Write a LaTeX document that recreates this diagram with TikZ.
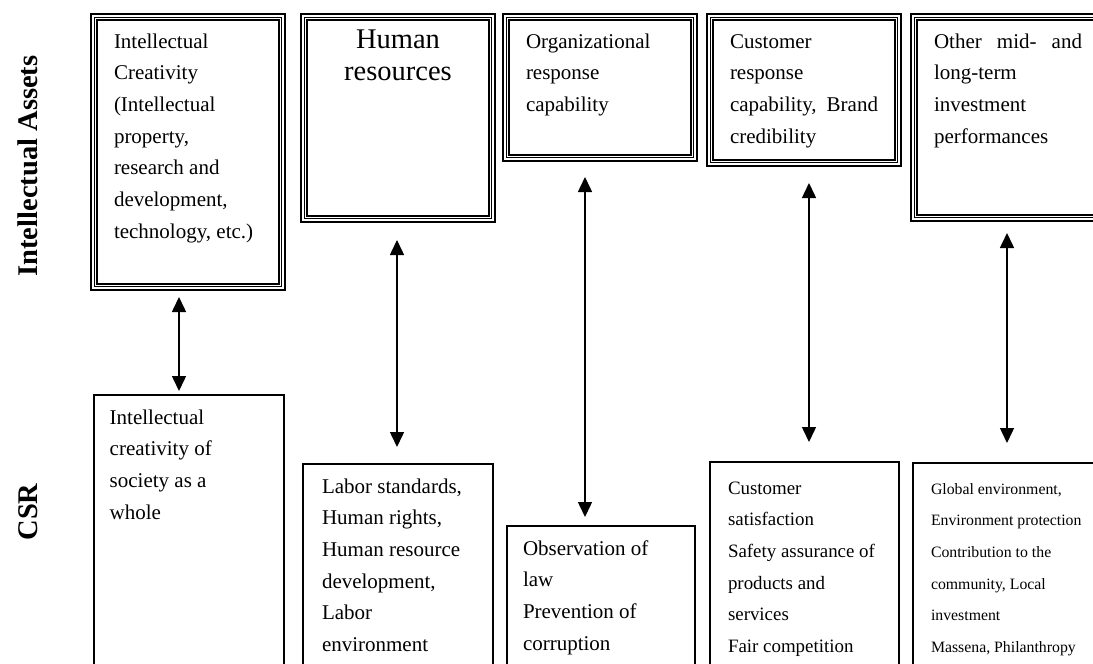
\documentclass[tikz,border=0pt]{standalone}
\usepackage{fontspec}
\setmainfont{Liberation Serif}
\usetikzlibrary{arrows.meta,calc}

% three nested rules round an asset box: thick, thin, thick
\newcommand\tripleframe[1]{%
  \draw[line width=2.3pt] ($(#1.north west)+(1.15,1.15)$) rectangle ($(#1.south east)+(-1.15,-1.15)$);
  \draw[line width=0.8pt] ($(#1.north west)+(4.5,4.5)$) rectangle ($(#1.south east)+(-4.5,-4.5)$);
  \draw[line width=2pt]   ($(#1.north west)+(7,7)$) rectangle ($(#1.south east)+(-7,-7)$);
}
% stacked lines whose reference point is the baseline of the first line
\newcommand\leftlines[1]{\vtop{\halign{##\hfil\cr#1\crcr}}}
\newcommand\centerlines[1]{\vtop{\halign{\hfil##\hfil\cr#1\crcr}}}

\begin{document}
\begin{tikzpicture}[x=1pt,y=-1pt,
  asset/.style={draw=none,inner sep=0,outer sep=0,minimum width=196pt,anchor=north west},
  csrbox/.style={draw,line width=1.6pt,inner sep=0,outer sep=0,anchor=north west,minimum height=300pt},
  body/.style={inner sep=0,outer sep=0,anchor=base west,font=\fontsize{21}{31.7}\selectfont},
  side/.style={inner sep=0,outer sep=0,rotate=90,anchor=base,font=\fontsize{28.5}{30}\selectfont\bfseries},
  biarrow/.style={line width=1.5pt,{Triangle[length=15pt,width=14pt]}-{Triangle[length=15pt,width=14pt]}},
]
\useasboundingbox (0,0) rectangle (1093,664);
\clip (0,0) rectangle (1093,664);

% row labels
\node[side] (lblIA)  at (37,166) {Intellectual Assets};
\node[side] (lblCSR) at (37,512) {CSR};

% intellectual assets (top row)
\node[asset,minimum height=278pt] (ia1) at (90,13) {};
\node[asset,minimum height=210pt] (ia2) at (300,13) {};
\node[asset,minimum height=149pt] (ia3) at (502,13) {};
\node[asset,minimum height=154pt] (ia4) at (706,13) {};
\node[asset,minimum height=209pt] (ia5) at (910,13) {};
\tripleframe{ia1}
\tripleframe{ia2}
\tripleframe{ia3}
\tripleframe{ia4}
\tripleframe{ia5}

\node[body] (tia1) at ($(ia1.north west)+(24,35)$)
  {\leftlines{Intellectual\cr Creativity\cr (Intellectual\cr property,\cr research and\cr development,\cr technology, etc.)}};
\node[inner sep=0,outer sep=0,anchor=base,font=\fontsize{28.5}{32}\selectfont] (tia2)
  at ($(ia2.north)+(0,35)$) {\centerlines{Human\cr resources}};
\node[body] (tia3) at ($(ia3.north west)+(24,35)$) {\leftlines{Organizational\cr response\cr capability}};
\node[body] (tia4) at ($(ia4.north west)+(24,35)$)
  {\leftlines{Customer\cr response\cr \makebox[148pt][s]{capability, Brand}\cr credibility}};
\node[body] (tia5) at ($(ia5.north west)+(24,35)$)
  {\leftlines{\makebox[148pt][s]{Other mid- and}\cr long-term\cr investment\cr performances}};

% CSR (bottom row)
\node[csrbox,minimum width=190pt] (csr1) at (93.7,395) {};
\node[csrbox,minimum width=190pt] (csr2) at (303,464) {};
\node[csrbox,minimum width=188pt] (csr3) at (507,526) {};
\node[csrbox,minimum width=189pt] (csr4) at (710,462) {};
\node[csrbox,minimum width=196pt] (csr5) at (913,463) {};

\node[body] (tcsr1) at ($(csr1.north west)+(16,29)$)
  {\leftlines{Intellectual\cr creativity of\cr society as a\cr whole}};
\node[body] (tcsr2) at ($(csr2.north west)+(19,29)$)
  {\leftlines{Labor standards,\cr Human rights,\cr Human resource\cr development,\cr Labor\cr environment}};
\node[body] (tcsr3) at ($(csr3.north west)+(16,29)$)
  {\leftlines{Observation of\cr law\cr Prevention of\cr corruption}};
\node[body,font=\fontsize{18.9}{31.7}\selectfont] (tcsr4) at ($(csr4.north west)+(18,32)$)
  {\leftlines{Customer\cr satisfaction\cr Safety assurance of\cr products and\cr services\cr Fair competition}};
\node[body,font=\fontsize{15.8}{31.7}\selectfont] (tcsr5) at ($(csr5.north west)+(18,31)$)
  {\leftlines{Global environment,\cr Environment protection\cr Contribution to the\cr community, Local\cr investment\cr Massena, Philanthropy}};

% two-way links between each asset and its CSR counterpart
\coordinate (k1) at (179,0);
\coordinate (k2) at (397,0);
\coordinate (k3) at (585,0);
\coordinate (k4) at (809,0);
\coordinate (k5) at (1007,0);
\draw[biarrow,shorten <=6pt,shorten >=4pt]   (ia1.south -| k1) -- (csr1.north -| k1);
\draw[biarrow,shorten <=17pt,shorten >=17pt] (ia2.south -| k2) -- (csr2.north -| k2);
\draw[biarrow,shorten <=15pt,shorten >=9pt]  (ia3.south -| k3) -- (csr3.north -| k3);
\draw[biarrow,shorten <=16pt,shorten >=20pt] (ia4.south -| k4) -- (csr4.north -| k4);
\draw[biarrow,shorten <=11pt,shorten >=20pt] (ia5.south -| k5) -- (csr5.north -| k5);
\end{tikzpicture}
\end{document}
